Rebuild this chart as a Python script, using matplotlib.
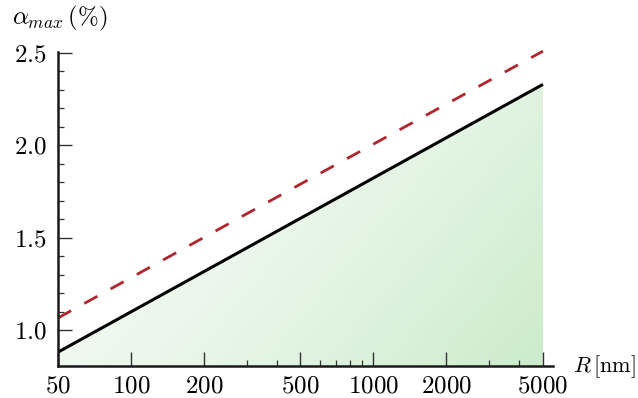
import numpy as np
import matplotlib
matplotlib.use("Agg")
import matplotlib.pyplot as plt
from matplotlib.ticker import FixedLocator, NullFormatter

plt.rcParams["mathtext.fontset"] = "cm"
plt.rcParams["font.family"] = "serif"
plt.rcParams["font.serif"] = ["cmr10", "DejaVu Serif"]

# Particle radius R [nm] and maximum alpha (%)
radius_nm = [50, 500, 5000]
alpha_solid = [0.88, 1.605, 2.33]
alpha_dashed = [1.065, 1.79, 2.51]

x_major = [50, 100, 200, 500, 1000, 2000, 5000]
x_minor = [300, 400, 600, 700, 800, 900, 3000, 4000]
y_major = [1.0, 1.5, 2.0, 2.5]
y_minor = [1.1, 1.2, 1.3, 1.4, 1.6, 1.7, 1.8, 1.9, 2.1, 2.2, 2.3, 2.4]

fig = plt.figure(figsize=(6.38, 3.98), dpi=100)
ax = fig.add_axes([58 / 638, 1 - 366 / 398, (553 - 58) / 638, (366 - 49.3) / 398])
ax.set_xscale("log")
xlo, xhi = 50, 5500
ylo, yhi = 0.805, 2.52
ax.set_xlim(xlo, xhi)
ax.set_ylim(ylo, yhi)

# green gradient under the solid curve, fading towards the upper left
nx, ny = 300, 200
xf_end = np.log10(5000 / xlo) / np.log10(xhi / xlo)
gx = np.linspace(0, 1, nx)[None, :]
gy = np.linspace(0, 1, ny)[:, None]
t = np.clip(0.3 + 0.45 * gx + 0.25 * (1 - gy), 0, 1) ** 2
white = np.array([1.0, 1.0, 1.0])
green = np.array([203, 235, 203]) / 255.0
img = white[None, None, :] * (1 - t[..., None]) + green[None, None, :] * t[..., None]
im = ax.imshow(img, extent=[0, xf_end, 0, 1], origin="lower", aspect="auto",
               transform=ax.transAxes, zorder=1, interpolation="bilinear")
poly = ax.fill_between(radius_nm, alpha_solid, ylo, facecolor="none", edgecolor="none")
im.set_clip_path(poly.get_paths()[0], transform=ax.transData)

ax.plot(radius_nm, alpha_solid, color="black", lw=2.2, zorder=3, solid_capstyle="butt")
ax.plot(radius_nm, alpha_dashed, color="#b0262e", lw=2.0, zorder=3,
        dashes=(5.4, 5.4))

for s in ("top", "right"):
    ax.spines[s].set_visible(False)
for s in ("left", "bottom"):
    ax.spines[s].set_linewidth(1.8)
    ax.spines[s].set_color("#1a1a1a")
    ax.spines[s].set_zorder(4)
ax.spines["left"].set_bounds(ylo, 2.505)

ax.xaxis.set_major_locator(FixedLocator(x_major))
ax.xaxis.set_minor_locator(FixedLocator(x_minor))
ax.set_xticklabels([f"${v}$" for v in x_major])
ax.xaxis.set_minor_formatter(NullFormatter())
ax.yaxis.set_major_locator(FixedLocator(y_major))
ax.yaxis.set_minor_locator(FixedLocator(y_minor))
ax.set_yticklabels([f"${v:.1f}$" for v in y_major])

ax.tick_params(which="major", direction="in", length=10, width=1.0, color="#333333",
               labelsize=18)
ax.tick_params(which="minor", direction="in", length=4.5, width=0.9, color="#333333")
ax.tick_params(axis="y", which="major", pad=8)
ax.tick_params(axis="x", which="major", pad=7)

fig.text(12 / 638, 1 - 18 / 398, r"$\alpha_{max}\,(\%)$", fontsize=18, va="center", ha="left")
fig.text(636 / 638, 1 - 367 / 398, r"$R\,[\mathrm{nm}]$", fontsize=16, va="center", ha="right")

fig.savefig("out.png", dpi=100)
